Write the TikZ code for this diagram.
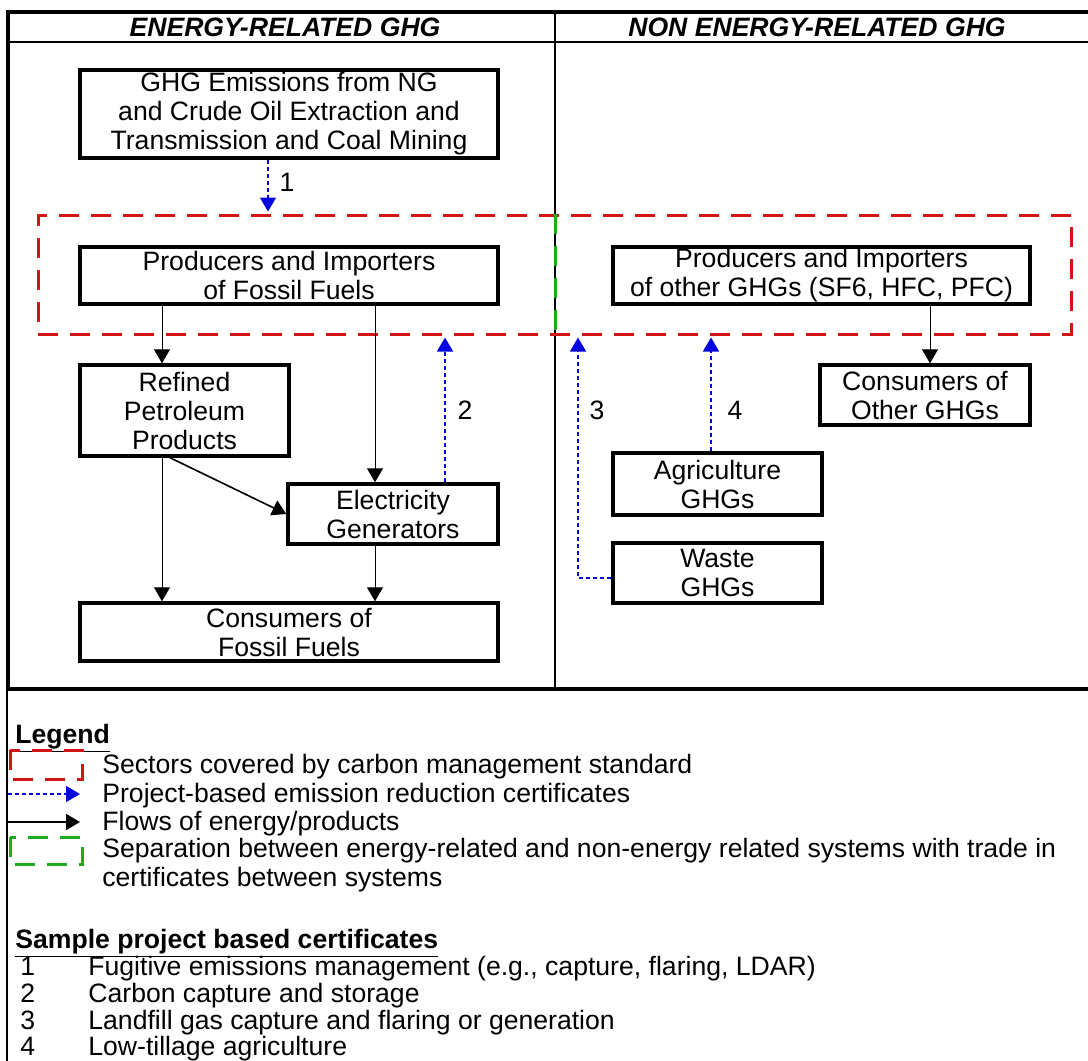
\documentclass[tikz,border=0pt]{standalone}
\usepackage{fontspec}
\setmainfont{Liberation Sans}
\usetikzlibrary{arrows.meta,positioning}
\definecolor{zonered}{RGB}{210,20,20}
\definecolor{sepgreen}{RGB}{30,170,30}
\definecolor{certblue}{RGB}{0,0,225}
\newcommand{\txt}{\fontsize{13.3pt}{14.5pt}\selectfont}
\tikzset{box/.style={draw, line width=1.7pt, inner sep=0pt, align=center, font=\txt}}
\tikzset{flow/.style={draw, line width=0.5pt, -{Triangle[width=8pt,length=7pt]}}}
\tikzset{cert/.style={draw=certblue, line width=0.7pt, dash pattern=on 2pt off 1.5pt, -{Triangle[width=8pt,length=7pt,fill=certblue]}}}
\tikzset{zone/.style={draw=zonered, line width=1.5pt, dash pattern=on 10pt off 6pt, inner sep=0pt}}
\tikzset{sepline/.style={draw=sepgreen, line width=1.5pt, dash pattern=on 10pt off 6pt}}
\tikzset{lbl/.style={font=\txt, inner sep=0pt}}
\tikzset{legtxt/.style={font=\txt, inner sep=0pt, anchor=base west}}

\begin{document}
\begin{tikzpicture}[x=0.5pt, y=-0.5pt]
\useasboundingbox (0,0) rectangle (1088,1061);
% frame and columns
\draw[line width=2pt] (1088,12) -- (8,12) -- (8,689) -- (1088,689);
\draw[line width=1pt] (7,689) -- (7,1061);
\draw[line width=0.6pt] (8,42) -- (1088,42);
\draw[line width=0.6pt] (555,12) -- (555,689);
\node[lbl, font=\txt\bfseries\itshape] (hen) at (285,27) {ENERGY-RELATED GHG};
\node[lbl, font=\txt\bfseries\itshape] (hnon) at (817,27) {NON ENERGY-RELATED GHG};

% covered sectors
\node[zone, minimum width=516.5pt, minimum height=59.5pt] (zone) at (554.5,274.5) {};
\coordinate (sep) at (555,0);
\draw[sepline] (zone.north -| sep) -- (zone.south -| sep);

% boxes
\node[box, minimum width=209pt, minimum height=44pt] (ghg) at (289,114) {GHG Emissions from NG\\and Crude Oil Extraction and\\Transmission and Coal Mining};
\node[box, minimum width=209pt, minimum height=28.5pt] (prodff) at (289,275.5) {Producers and Importers\\of Fossil Fuels};
\node[box, minimum width=208.5pt, minimum height=28.5pt] (prodoth) at (821.5,275.5) {Producers and Importers\\of other GHGs (SF6, HFC, PFC)};
\node[box, minimum width=104.5pt, minimum height=45.5pt] (refined) at (184.5,410.5) {Refined\\Petroleum\\Products};
\node[box, minimum width=105pt, minimum height=30pt] (elec) at (393,514) {Electricity\\Generators};
\node[box, minimum width=209pt, minimum height=29pt] (consff) at (289,632) {Consumers of\\Fossil Fuels};
\node[box, minimum width=105pt, minimum height=30pt] (consoth) at (925,395) {Consumers of\\Other GHGs};
\node[box, minimum width=104.5pt, minimum height=31pt] (agri) at (717.5,484) {Agriculture\\GHGs};
\node[box, minimum width=104.5pt, minimum height=30pt] (waste) at (717.5,573) {Waste\\GHGs};

% flows
\coordinate (xa) at (162,0);
\coordinate (xb) at (375,0);
\coordinate (xc) at (170,0);
\coordinate (xd) at (930,0);
\draw[flow] (prodff.south -| xa) -- (refined.north -| xa);
\draw[flow] (prodff.south -| xb) -- (elec.north -| xb);
\draw[flow] (refined.south -| xa) -- (consff.north -| xa);
\draw[flow, line width=0.8pt] (refined.south -| xc) -- (elec.west);
\draw[flow] (elec.south -| xb) -- (consff.north -| xb);
\draw[flow] (prodoth.south -| xd) -- (consoth.north -| xd);

% certificates
\coordinate (x1) at (268,0);
\coordinate (x2) at (445,0);
\coordinate (x3) at (578,0);
\coordinate (x4) at (711,0);
\draw[cert] (ghg.south -| x1) -- ([yshift=1pt]zone.north -| x1);
\draw[cert] (elec.north -| x2) -- ([yshift=-1pt]zone.south -| x2);
\draw[cert] ([yshift=-2.5pt]waste.west) -| ([yshift=-1pt]zone.south -| x3);
\draw[cert] (agri.north -| x4) -- ([yshift=-1pt]zone.south -| x4);
\node[lbl] (n1) at (287,182) {1};
\node[lbl] (n2) at (465,410) {2};
\node[lbl] (n3) at (597,410) {3};
\node[lbl] (n4) at (735,410) {4};

% legend
\node[legtxt, font=\txt\bfseries] (leg) at (15,743) {\underline{Legend}};
\draw[zone] (10,750) rectangle (82,779);
\node[legtxt] (l1) at (102,773) {Sectors covered by carbon management standard};
\coordinate (ka) at (8,794);
\coordinate (kb) at (80,794);
\draw[cert] (ka) -- (kb);
\node[legtxt] (l2) at (102,802) {Project-based emission reduction certificates};
\coordinate (kc) at (8,822);
\coordinate (kd) at (80,822);
\draw[flow, line width=1pt] (kc) -- (kd);
\node[legtxt] (l3) at (102,830) {Flows of energy/products};
\draw[sepline] (10,837) rectangle (82,864);
\node[legtxt, align=left, anchor=north west] (l4) at (102,838) {Separation between energy-related and non-energy related systems with trade in\\certificates between systems};

\node[legtxt, font=\txt\bfseries] (smp) at (15,948) {\underline{Sample project based certificates}};
\node[legtxt] (s1) at (20,975) {1};
\node[legtxt] (t1) at (88,975) {Fugitive emissions management (e.g., capture, flaring, LDAR)};
\node[legtxt] (s2) at (20,1002) {2};
\node[legtxt] (t2) at (88,1002) {Carbon capture and storage};
\node[legtxt] (s3) at (20,1029) {3};
\node[legtxt] (t3) at (88,1029) {Landfill gas capture and flaring or generation};
\node[legtxt] (s4) at (20,1055) {4};
\node[legtxt] (t4) at (88,1055) {Low-tillage agriculture};
\end{tikzpicture}
\end{document}
